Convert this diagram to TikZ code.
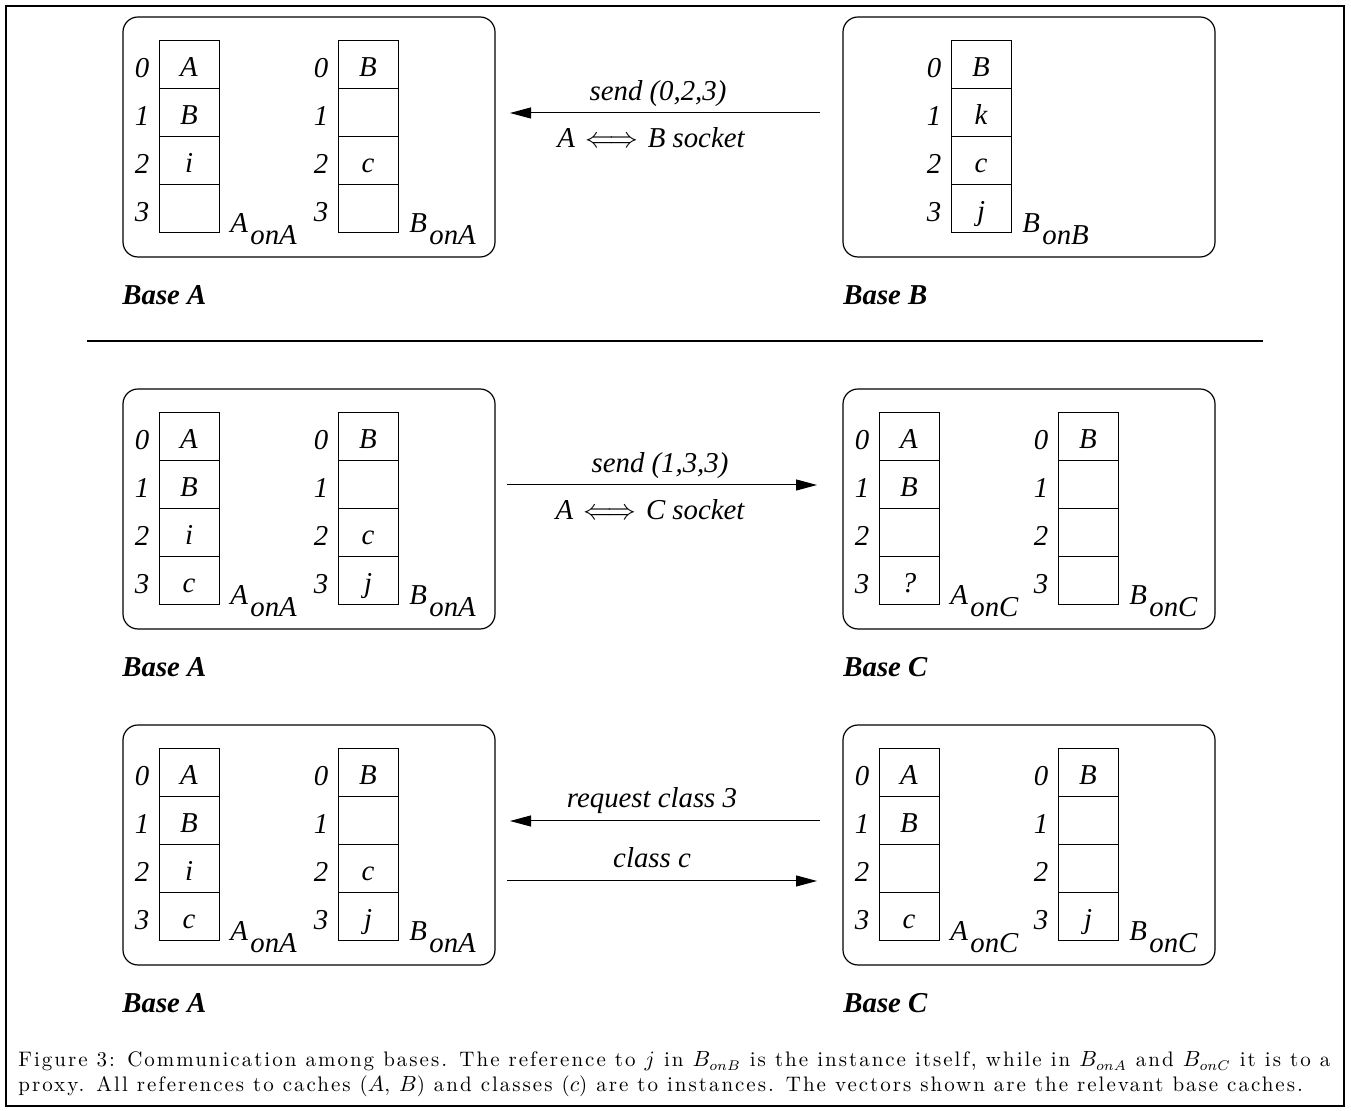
\documentclass[tikz,border=0pt]{standalone}
\usepackage{fontspec}
\newfontfamily\tf{Liberation Serif}
\newfontfamily\capfont{lmroman10-regular.otf}[LetterSpace=9.5]
\usetikzlibrary{arrows.meta}
\tikzset{
  x=0.5pt, y=-0.5pt,
  txt/.style={inner sep=0pt, font=\tf\itshape\fontsize{14.4pt}{16pt}\selectfont},
  blab/.style={inner sep=0pt, anchor=base west, font=\tf\bfseries\itshape\fontsize{14.4pt}{16pt}\selectfont},
  cell/.style={draw, line width=0.5pt, minimum width=30pt, minimum height=24pt, inner sep=0pt},
  basebox/.style={draw, line width=0.6pt, rounded corners=7.5pt, minimum width=186pt, minimum height=120pt, inner sep=0pt},
  arr/.style={line width=0.5pt, -{Triangle[length=10.5pt,width=5.5pt]}},
  captxt/.style={inner sep=0pt, anchor=base west, font=\capfont\fontsize{10.5pt}{12.5pt}\selectfont},
}
% name, xleft, ytop, c0, c1, c2, c3, label, sub
\newcommand\cachevec[9]{%
  \node[cell] (#1-0) at (#2+30,#3+24) {};
  \node[cell] (#1-1) at (#2+30,#3+72) {};
  \node[cell] (#1-2) at (#2+30,#3+120) {};
  \node[cell] (#1-3) at (#2+30,#3+168) {};
  \node[txt,anchor=base] (#1-0t) at (#2+30,#3+36) {#4};
  \node[txt,anchor=base] (#1-1t) at (#2+30,#3+84) {#5};
  \node[txt,anchor=base] (#1-2t) at (#2+30,#3+132) {#6};
  \node[txt,anchor=base] (#1-3t) at (#2+30,#3+180) {#7};
  \node[txt,anchor=base] (#1-0i) at (#2-17,#3+37) {0};
  \node[txt,anchor=base] (#1-1i) at (#2-17,#3+85) {1};
  \node[txt,anchor=base] (#1-2i) at (#2-17,#3+133) {2};
  \node[txt,anchor=base] (#1-3i) at (#2-17,#3+181) {3};
  \node[txt,anchor=base west] (#1-lab) at (#2+71,#3+192) {#8\kern1.2pt\raisebox{-6pt}{#9}};
}
\begin{document}
\begin{tikzpicture}
\useasboundingbox (0,0) rectangle (1351,1111);
\draw[line width=1pt] (6,6) rectangle (1344,1106);

% ---------- Row 1 ----------
\node[basebox] (bA1) at (309,137) {};
\node[basebox] (bB1) at (1029,137) {};
\cachevec{r1a}{159}{41}{A}{B}{i}{}{A}{onA}
\cachevec{r1b}{338}{41}{B}{}{c}{}{B}{onA}
\cachevec{r1c}{951}{41}{B}{k}{c}{j}{B}{onB}
\node[blab] (lA1) at (122,305) {Base A};
\node[blab] (lB1) at (843,305) {Base B};
\coordinate (r1R) at (820,113);
\coordinate (r1L) at (510,113);
\draw[arr] (r1R) -- (r1L);
\node[txt,anchor=base] (t1a) at (658,101) {send (0,2,3)};
\node[txt,anchor=base] (t1b) at (651,148) {A\hspace{5pt}$\Longleftrightarrow$\hspace{5pt}B socket};

\draw[line width=1pt] (87,341) -- (1263,341);

% ---------- Row 2 ----------
\node[basebox] (bA2) at (309,509) {};
\node[basebox] (bC2) at (1029,509) {};
\cachevec{r2a}{159}{413}{A}{B}{i}{c}{A}{onA}
\cachevec{r2b}{338}{413}{B}{}{c}{j}{B}{onA}
\cachevec{r2c}{879}{413}{A}{B}{}{?}{A}{onC}
\cachevec{r2d}{1058}{413}{B}{}{}{}{B}{onC}
\node[blab] (lA2) at (122,677) {Base A};
\node[blab] (lC2) at (843,677) {Base C};
\coordinate (r2L) at (507,485);
\coordinate (r2R) at (817,485);
\draw[arr] (r2L) -- (r2R);
\node[txt,anchor=base] (t2a) at (660,473) {send (1,3,3)};
\node[txt,anchor=base] (t2b) at (650,520) {A\hspace{5pt}$\Longleftrightarrow$\hspace{5pt}C socket};

% ---------- Row 3 ----------
\node[basebox] (bA3) at (309,845) {};
\node[basebox] (bC3) at (1029,845) {};
\cachevec{r3a}{159}{749}{A}{B}{i}{c}{A}{onA}
\cachevec{r3b}{338}{749}{B}{}{c}{j}{B}{onA}
\cachevec{r3c}{879}{749}{A}{B}{}{c}{A}{onC}
\cachevec{r3d}{1058}{749}{B}{}{}{j}{B}{onC}
\node[blab] (lA3) at (122,1013) {Base A};
\node[blab] (lC3) at (843,1013) {Base C};
\coordinate (r3aR) at (820,821);
\coordinate (r3aL) at (510,821);
\draw[arr] (r3aR) -- (r3aL);
\coordinate (r3bL) at (507,881);
\coordinate (r3bR) at (817,881);
\draw[arr] (r3bL) -- (r3bR);
\node[txt,anchor=base] (t3a) at (652,808) {request class 3};
\node[txt,anchor=base] (t3b) at (652,868) {class c};

% ---------- Caption ----------
\node[captxt] (cap1) at (18,1067)
  {\makebox[656pt][s]{Figure 3: Communication among bases. The reference to $j$ in $B_{onB}$ is the instance itself, while in $B_{onA}$ and $B_{onC}$ it is to a}};
\node[captxt] (cap2) at (18,1092)
  {proxy. All references to caches ($A$, $B$) and classes ($c$) are to instances. The vectors shown are the relevant base caches.};
\end{tikzpicture}
\end{document}
